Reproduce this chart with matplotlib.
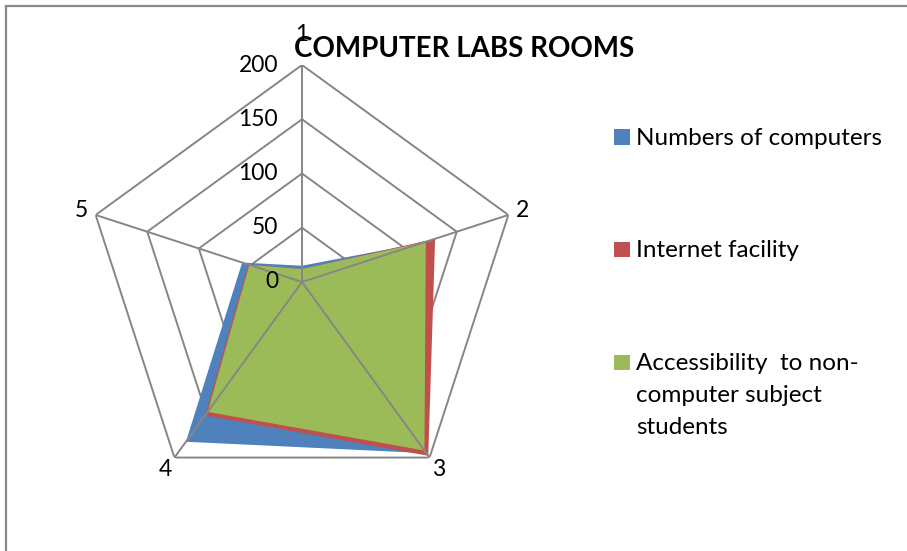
import numpy as np
import matplotlib
matplotlib.use("Agg")
import matplotlib.pyplot as plt
import matplotlib.transforms as mtrans
from matplotlib.patches import Rectangle
from matplotlib.lines import Line2D

categories = ["1", "2", "3", "4", "5"]
series_names = ["Numbers of computers", "Internet facility",
                "Accessibility  to non-\ncomputer subject\nstudents"]
numbers_of_computers = [15, 118, 195, 182, 58]
internet_facility = [12, 129, 198, 152, 52]
accessibility = [12, 120, 192, 148, 51]
r_ticks = [0, 50, 100, 150, 200]
colors = ["#4F81BD", "#C0504D", "#9BBB59"]
grid_color = "#868686"
FONT = "Lato"

W, H = 907, 551
fig = plt.figure(figsize=(W / 100, H / 100), dpi=100)
cx, cy, R = 302, 282, 217
ax = fig.add_axes([(cx - R) / W, (H - cy - R) / H, 2 * R / W, 2 * R / H],
                  projection="polar")
ax.set_theta_offset(np.pi / 2)
ax.set_theta_direction(-1)
ax.set_ylim(0, r_ticks[-1])
ax.grid(False)
ax.spines["polar"].set_visible(False)
ax.set_xticks([])
ax.set_yticks([])
ax.patch.set_visible(False)

n = len(categories)
theta = np.arange(n) * 2 * np.pi / n
theta_c = np.append(theta, theta[0])

# grid polygons
for r in r_ticks[1:]:
    ax.plot(theta_c, [r] * (n + 1), color=grid_color, lw=1.4, zorder=1)

# series
for vals, c, z in zip([numbers_of_computers, internet_facility, accessibility], colors, [2, 3, 4]):
    v = np.append(vals, vals[0])
    ax.fill(theta_c, v, color=c, lw=0, zorder=z)

# spokes
for t in theta:
    ax.plot([t, t], [0, r_ticks[-1]], color=grid_color, lw=1.4, zorder=5)

# radial tick labels
off = mtrans.offset_copy(ax.transData, fig=fig, x=-24, y=0, units="dots")
for r in r_ticks:
    ax.text(0, r, str(r), transform=off, ha="right", va="center",
            fontsize=16.5, family=FONT, color="black", zorder=6)

# category labels
label_r = [228, 214, 214, 214, 214]
for t, lab, lr in zip(theta, categories, label_r):
    ax.text(t, lr, lab, ha="center", va="center", fontsize=16.5,
            family=FONT, color="black", clip_on=False, zorder=6)

# title
fig.text(464 / W, 1 - 57 / H, "COMPUTER LABS ROOMS", ha="center", va="baseline",
         fontsize=20, fontweight="bold", family=FONT)

# legend
leg_base = [145, 257, 370]
for name, c, yb in zip(series_names, colors, leg_base):
    fig.patches.append(Rectangle((614 / W, 1 - (yb) / H), 15.5 / W, 15.5 / H,
                                 transform=fig.transFigure, color=c, lw=0))
    for i, line in enumerate(name.split("\n")):
        fig.text(636 / W, 1 - (yb + 32 * i) / H, line, ha="left", va="baseline",
                 fontsize=17.5, family=FONT)

# chart border (top and left)
fig.add_artist(Line2D([6 / W, 1], [1 - 6 / H, 1 - 6 / H], transform=fig.transFigure,
                      color="#898989", lw=1.6))
fig.add_artist(Line2D([6 / W, 6 / W], [0, 1 - 6 / H], transform=fig.transFigure,
                      color="#898989", lw=1.6))

fig.savefig("out.png", dpi=100, facecolor="white")
